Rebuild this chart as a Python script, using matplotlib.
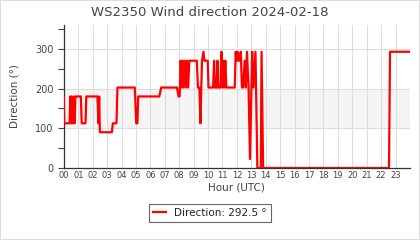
import matplotlib
matplotlib.use("Agg")
import matplotlib.pyplot as plt
from matplotlib.patches import Rectangle

title = "WS2350 Wind direction 2024-02-18"
series_label = "Direction: 292.5 °"
hour_labels = [f"{h:02d}" for h in range(24)]

hours = [0.00, 0.03, 0.40, 0.45, 0.50, 0.55, 0.62, 0.68, 0.75, 0.80,
         1.18, 1.24, 1.50, 1.56, 2.33, 2.40, 2.45, 2.50, 3.33, 3.40,
         3.65, 3.72, 4.92, 5.02, 5.10, 5.16, 6.62, 6.75, 7.85, 7.95,
         8.03, 8.10, 8.16, 8.22, 8.30, 8.38, 8.46, 8.54, 8.62, 8.70,
         9.22, 9.30, 9.40, 9.47, 9.58, 9.68, 9.75, 9.98, 10.03, 10.35,
         10.42, 10.48, 10.60, 10.65, 10.70, 10.86, 10.93, 11.00, 11.05, 11.12,
         11.20, 11.27, 11.85, 11.92, 11.97, 12.05, 12.12, 12.20, 12.27, 12.35,
         12.43, 12.54, 12.62, 12.70, 12.81, 12.91, 13.06, 13.15, 13.29, 13.42,
         13.66, 13.71, 13.82, 22.55, 22.62, 23.98]
direction = [180, 112.5, 112.5, 180, 112.5, 180, 112.5, 180, 112.5, 180,
             180, 112.5, 112.5, 180, 180, 112.5, 180, 90, 90, 112.5,
             112.5, 202.5, 202.5, 112.5, 112.5, 180, 180, 202.5, 202.5, 180,
             180, 270, 202.5, 270, 202.5, 270, 202.5, 270, 202.5, 270,
             270, 202.5, 202.5, 112.5, 270, 292.5, 270, 270, 202.5, 202.5,
             270, 202.5, 202.5, 270, 202.5, 202.5, 292.5, 202.5, 270, 202.5,
             270, 202.5, 202.5, 292.5, 270, 292.5, 270, 270, 292.5, 202.5,
             202.5, 270, 202.5, 292.5, 202.5, 22.5, 292.5, 202.5, 292.5, 0,
             0, 292.5, 0, 0, 292.5, 292.5]

fig = plt.figure(figsize=(4.2, 2.4), dpi=100)
fig.patch.set_facecolor("white")
fig.patches.append(Rectangle((0, 0), 1, 1, transform=fig.transFigure,
                             fill=False, edgecolor="#dddddd", lw=1.5))

ax = fig.add_axes([0.152, 0.30, 0.824, 0.596])
ax.axhspan(100, 200, color="#f5f5f5", zorder=0)
ax.plot(hours, direction, color="#ff0000", lw=1.6, label=series_label, zorder=3)

ax.set_xlim(0, 24)
ax.set_ylim(0, 360)
ax.set_xticks(range(24))
ax.set_xticklabels(hour_labels, fontsize=6, color="#444444")
ax.set_yticks([0, 100, 200, 300])
ax.set_yticks([50, 150, 250, 350], minor=True)
ax.tick_params(axis="y", labelsize=7, colors="#444444", length=4, width=0.8)
ax.tick_params(axis="y", which="minor", length=4, width=0.8, color="#444444")
ax.tick_params(axis="x", length=0, pad=2)
ax.grid(True, color="#dddddd", lw=0.8, zorder=1)
ax.set_axisbelow(True)
for s in ("top", "right"):
    ax.spines[s].set_visible(False)
for s in ("left", "bottom"):
    ax.spines[s].set_color("#333333")
    ax.spines[s].set_linewidth(0.9)

fig.text(0.5, 1 - 12 / 240, title, fontsize=9.5, color="#444444",
         ha="center", va="center")
ax.set_ylabel("Direction (°)", fontsize=7.5, color="#444444")
ax.yaxis.set_label_coords(-0.128, 0.5)
ax.set_xlabel("Hour (UTC)", fontsize=7.5, color="#444444", labelpad=2)

leg = fig.legend(loc="center", bbox_to_anchor=(0.5, 0.113), fontsize=7.5,
                 fancybox=False, edgecolor="#666666", handlelength=1.2,
                 borderpad=0.4, framealpha=1)
leg.get_frame().set_linewidth(0.8)
for t in leg.get_texts():
    t.set_color("#222222")

fig.savefig("out.png", dpi=100)
